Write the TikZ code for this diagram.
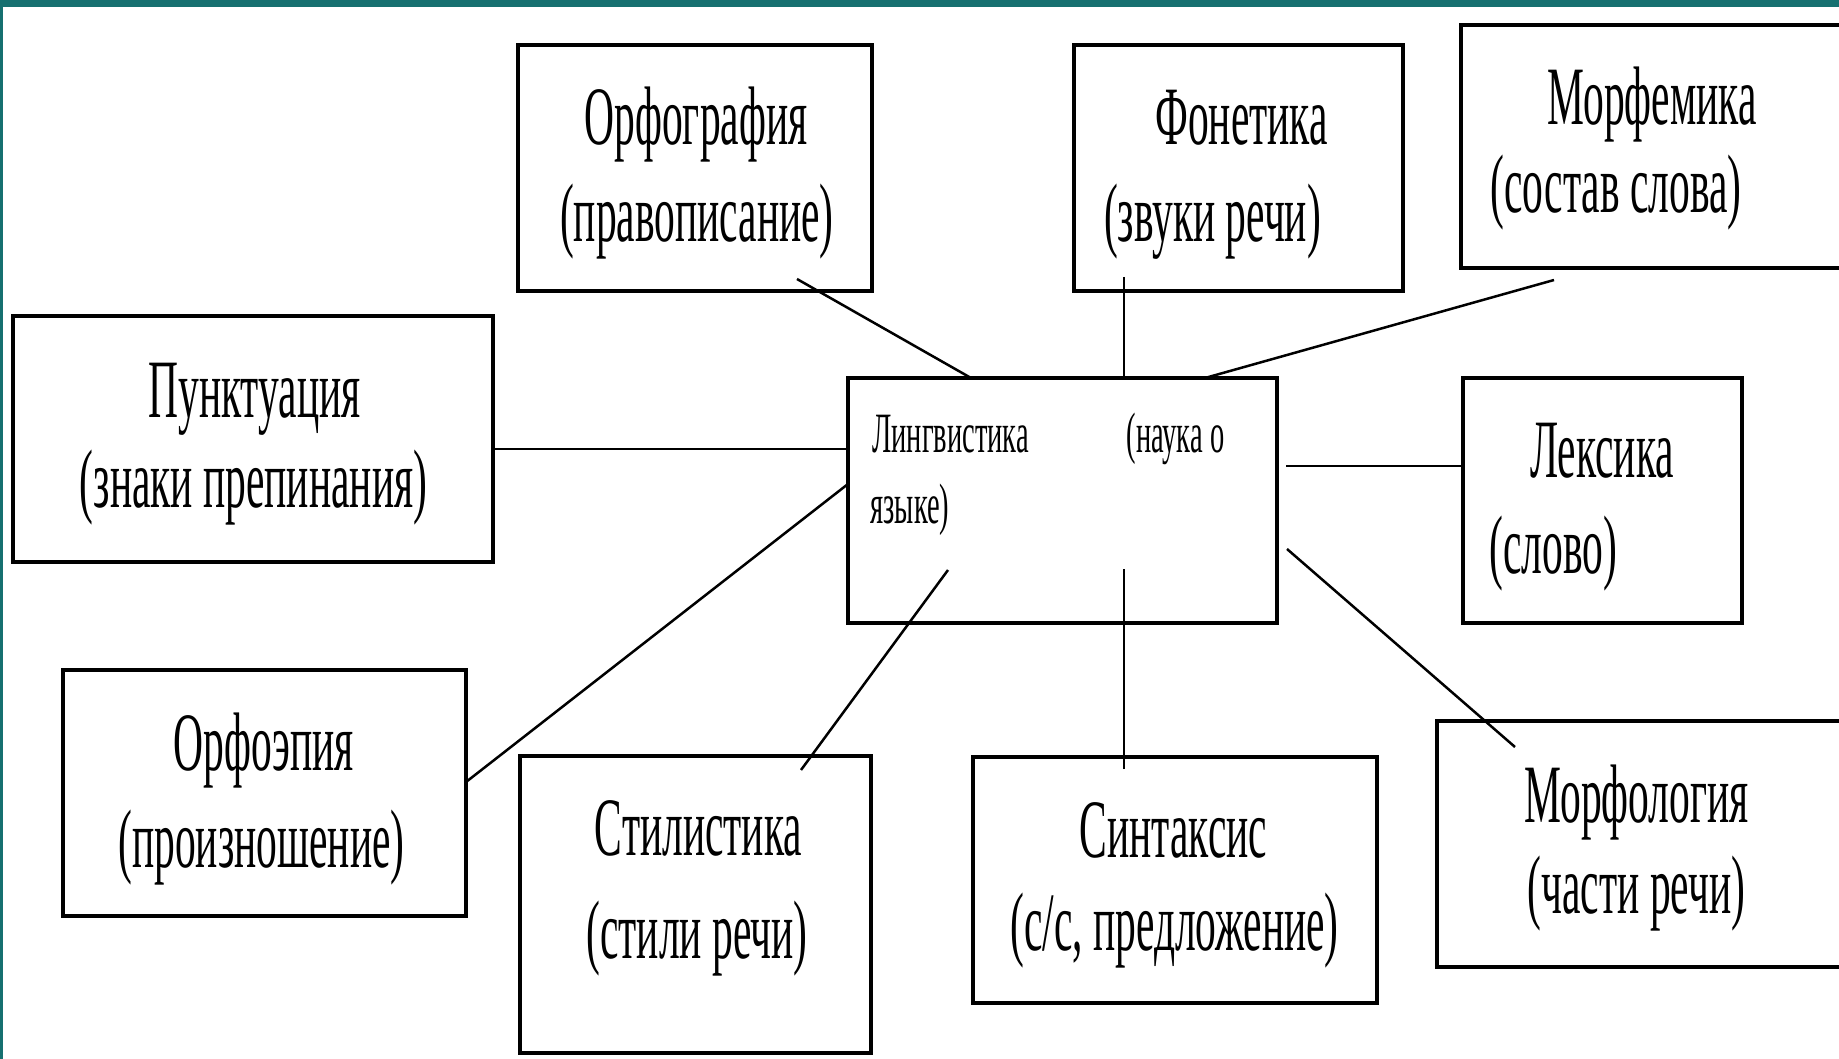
\documentclass[tikz,border=0pt]{standalone}
\usepackage{fontspec}
\setmainfont[FakeStretch=0.5]{Liberation Serif}
\definecolor{frame}{RGB}{22,112,112}
\tikzset{
  box/.style={draw,line width=4pt,inner sep=0pt},
  link/.style={line width=2.5pt},
  big/.style={anchor=base,inner sep=0pt,font=\fontsize{83}{96}\selectfont},
  small/.style={anchor=base,inner sep=0pt,font=\fontsize{57}{68}\selectfont}
}
\begin{document}
\begin{tikzpicture}[x=1pt,y=-1pt]
\useasboundingbox (0,0) rectangle (1839,1059);
\fill[frame] (0,0) rectangle (1839,7);
\fill[frame] (0,0) rectangle (3,1059);
% boxes
\draw
    (695,168)     node[box,minimum width=354,minimum height=246] (orfo) {}
    (1238.5,168)  node[box,minimum width=329,minimum height=246] (fon) {}
    (1653,146.5)  node[box,minimum width=384,minimum height=243] (morfem) {}
    (253,439)     node[box,minimum width=480,minimum height=246] (punkt) {}
    (1062.5,500.5) node[box,minimum width=429,minimum height=245] (ling) {}
    (1602.5,500.5) node[box,minimum width=279,minimum height=245] (leks) {}
    (264.5,793)   node[box,minimum width=403,minimum height=246] (orfoep) {}
    (695.5,904.5) node[box,minimum width=351,minimum height=297] (stil) {}
    (1175,880)    node[box,minimum width=404,minimum height=246] (sint) {}
    (1641,844)    node[box,minimum width=408,minimum height=246] (morfol) {};
% texts
\path
    (696,145)     node[big] (orfoA) {Орфография}
    (697,242)     node[big] (orfoB) {(правописание)}
    (1241.5,145)  node[big] (fonA) {Фонетика}
    (1212.5,242)  node[big] (fonB) {(звуки речи)}
    (1652,125)    node[big] (morfemA) {Морфемика}
    (1616,213)    node[big] (morfemB) {(состав слова)}
    (254.5,417)   node[big] (punktA) {Пунктуация}
    (253.5,507)   node[big] (punktB) {(знаки препинания)}
    (950.5,452)   node[small] (lingA) {Лингвистика}
    (1175.5,452)  node[small] (lingB) {(наука о}
    (910,523)     node[small] (lingC) {языке)}
    (1602,477)    node[big] (leksA) {Лексика}
    (1553.5,573)  node[big] (leksB) {(слово)}
    (264,770)     node[big] (orfoepA) {Орфоэпия}
    (261.5,867)   node[big] (orfoepB) {(произношение)}
    (698.5,855)   node[big] (stilA) {Стилистика}
    (697,958)     node[big] (stilB) {(стили речи)}
    (1173.5,857)  node[big] (sintA) {Синтаксис}
    (1174.5,950)  node[big] (sintB) {(с/с, предложение)}
    (1636.5,822)  node[big] (morfolA) {Морфология}
    (1636.5,913)  node[big] (morfolB) {(части речи)};
% connector ends
\path
    (797,279)  coordinate (orfo-e)    (971,378)  coordinate (ling-orfo)
    (1124,277) coordinate (fon-e)     (1124,378) coordinate (ling-fon)
    (1554,280) coordinate (morfem-e)  (1205,378) coordinate (ling-morfem)
    (493,449)  coordinate (punkt-e)   (848,449)  coordinate (ling-punkt)
    (1463,466) coordinate (leks-e)    (1286,466) coordinate (ling-leks)
    (466,782)  coordinate (orfoep-e)  (848,484)  coordinate (ling-orfoep)
    (801,770)  coordinate (stil-e)    (948,570)  coordinate (ling-stil)
    (1124,769) coordinate (sint-e)    (1124,569) coordinate (ling-sint)
    (1515,747) coordinate (morfol-e)  (1287,549) coordinate (ling-morfol);
\draw[link] (orfo-e) -- (ling-orfo);
\draw[link] (fon-e) -- (ling-fon);
\draw[link] (morfem-e) -- (ling-morfem);
\draw[link] (punkt-e) -- (ling-punkt);
\draw[link] (leks-e) -- (ling-leks);
\draw[link] (orfoep-e) -- (ling-orfoep);
\draw[link] (stil-e) -- (ling-stil);
\draw[link] (sint-e) -- (ling-sint);
\draw[link] (morfol-e) -- (ling-morfol);
\end{tikzpicture}
\end{document}
